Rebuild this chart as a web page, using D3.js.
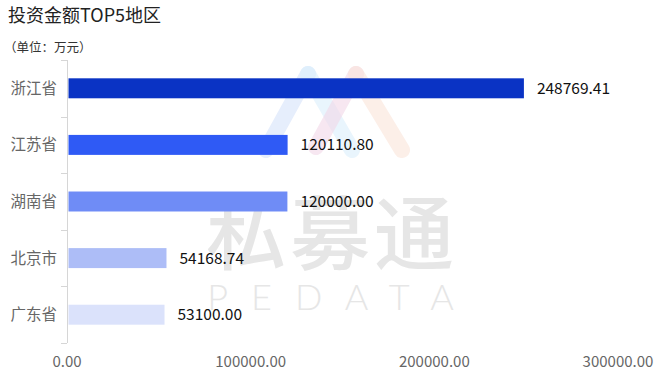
<!DOCTYPE html>
<html>
<head>
<meta charset="utf-8">
<script src="https://cdn.jsdelivr.net/npm/d3@7/dist/d3.min.js"></script>
<style>
  html, body { margin: 0; padding: 0; background: #fff; }
  svg { display: block; font-family: "Microsoft YaHei", "Noto Sans CJK SC", sans-serif; }
</style>
</head>
<body>
<svg id="chart" width="663" height="386"></svg>
<script>
// Top 5 regions by investment amount (unit: 10k CNY)
const regions = ["浙江省", "江苏省", "湖南省", "北京市", "广东省"];
const amounts = [248769.41, 120110.80, 120000.00, 54168.74, 53100.00];
const barColors = ["#0a33c4", "#2f5af5", "#6f8cf6", "#adbdf7", "#dbe2fb"];
const xTicks = [0, 100000, 200000, 300000];
const title = "投资金额TOP5地区";
const unitNote = "（单位：万元）";

const svg = d3.select("#chart");
const plot = { left: 67, right: 618, top: 60, bottom: 343 };

// Watermark (drawn first so it sits behind the chart)
const wm = svg.append("g").attr("class", "watermark");
const legs = [
  { x1: 266, y1: 150, x2: 308, y2: 74, c: "#d6e3fb" },
  { x1: 308, y1: 74, x2: 352, y2: 150, c: "#dcf0fc" },
  { x1: 316, y1: 147, x2: 356, y2: 74, c: "#f2d8e8" },
  { x1: 356, y1: 74, x2: 402, y2: 150, c: "#fbe5da" }
];
wm.selectAll("line").data(legs).join("line")
  .attr("x1", d => d.x1).attr("y1", d => d.y1)
  .attr("x2", d => d.x2).attr("y2", d => d.y2)
  .attr("stroke", d => d.c).attr("stroke-width", 16)
  .attr("stroke-linecap", "round").attr("opacity", 0.6);
wm.append("text")
  .attr("x", 332).attr("y", 263)
  .attr("text-anchor", "middle")
  .attr("font-size", 80).attr("font-weight", 500)
  .attr("fill", "#e6e6e6")
  .attr("letter-spacing", 4)
  .text("私募通");
wm.append("text")
  .attr("x", 342).attr("y", 310)
  .attr("text-anchor", "middle")
  .attr("font-family", "Lato, 'DejaVu Sans', sans-serif")
  .attr("font-size", 36).attr("font-weight", 300)
  .attr("fill", "#e6e6e6")
  .attr("letter-spacing", 23)
  .text("PEDATA");

// Title and unit note
svg.append("text")
  .attr("x", 8).attr("y", 22)
  .attr("font-size", 18).attr("fill", "#222")
  .text(title);
svg.append("text")
  .attr("x", 4).attr("y", 52)
  .attr("font-size", 12.5).attr("fill", "#333")
  .text(unitNote);

// Scales
const x = d3.scaleLinear().domain([0, 300000]).range([plot.left, plot.right]);
const y = d3.scaleBand().domain(regions)
  .range([plot.top, plot.bottom])
  .paddingInner(0.647).paddingOuter(0.3235);
const step = y.step();

// Category axis: line, boundary ticks and labels
const yAxis = svg.append("g");
yAxis.append("line")
  .attr("x1", plot.left + 0.5).attr("x2", plot.left + 0.5)
  .attr("y1", plot.top).attr("y2", plot.bottom)
  .attr("stroke", "#d6d6d6");
const bounds = d3.range(regions.length + 1).map(i => plot.top + i * step);
yAxis.selectAll("line.tick").data(bounds).join("line")
  .attr("class", "tick")
  .attr("x1", plot.left - 6).attr("x2", plot.left)
  .attr("y1", d => Math.round(d) + 0.5).attr("y2", d => Math.round(d) + 0.5)
  .attr("stroke", "#d6d6d6");
yAxis.selectAll("text").data(regions).join("text")
  .attr("x", plot.left - 10)
  .attr("y", d => y(d) + y.bandwidth() / 2)
  .attr("dy", "0.36em")
  .attr("text-anchor", "end")
  .attr("font-size", 15.5).attr("fill", "#666")
  .text(d => d);

// Value axis labels
svg.append("g").selectAll("text").data(xTicks).join("text")
  .attr("x", d => x(d))
  .attr("y", 362)
  .attr("dy", "0.36em")
  .attr("text-anchor", "middle")
  .attr("font-size", 15).attr("fill", "#666")
  .text(d => d3.format(".2f")(d));

// Bars
const rows = regions.map((r, i) => ({ region: r, value: amounts[i], color: barColors[i] }));
svg.append("g").selectAll("rect").data(rows).join("rect")
  .attr("x", x(0) + 1.5)
  .attr("y", d => y(d.region))
  .attr("width", d => x(d.value) - x(0) - 1.5)
  .attr("height", y.bandwidth())
  .attr("fill", d => d.color);

// Value labels
svg.append("g").selectAll("text").data(rows).join("text")
  .attr("x", d => x(d.value) + 13)
  .attr("y", d => y(d.region) + y.bandwidth() / 2)
  .attr("dy", "0.36em")
  .attr("font-size", 15.5).attr("fill", "#111")
  .text(d => d3.format(".2f")(d.value));
</script>
</body>
</html>
